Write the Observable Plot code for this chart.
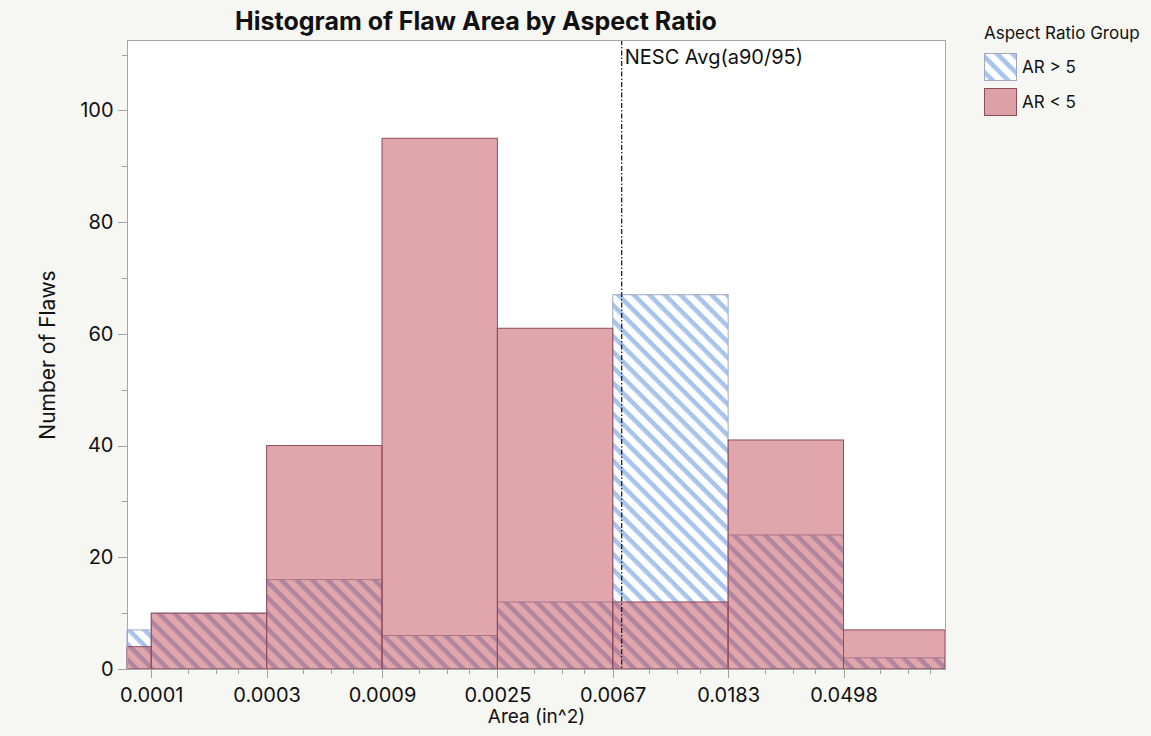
<!DOCTYPE html>
<html>
<head>
<meta charset="utf-8">
<script src="https://cdn.jsdelivr.net/npm/d3@7"></script>
<script src="https://cdn.jsdelivr.net/npm/@observablehq/plot@0.6"></script>
<style>
  html, body { margin: 0; padding: 0; background: #f6f6f3; }
  #wrap { position: relative; width: 1151px; height: 736px; font-family: Inter, "Liberation Sans", Arial, sans-serif; color: #111; }
  #title { position: absolute; left: 176px; width: 600px; top: 8px; text-align: center; font-weight: bold; font-size: 25px; line-height: 27px; }
  #legend { position: absolute; left: 984px; top: 20px; font-size: 17px; }
  #legend .lt { line-height: 26px; margin-bottom: 7px; }
  #legend .row { display: flex; align-items: center; height: 28px; margin-bottom: 7px; }
  #legend .row svg { margin-right: 5px; }
  #chart { position: absolute; left: 0; top: 0; }
</style>
</head>
<body>
<div id="wrap">
  <div id="chart"></div>
  <div id="title"></div>
  <div id="legend"></div>
</div>
<script>
// ---------- data ----------
const chartTitle = "Histogram of Flaw Area by Aspect Ratio";
const xLabel = "Area (in^2)";
const yLabel = "Number of Flaws";
const legendTitle = "Aspect Ratio Group";
const groups = ["AR > 5", "AR < 5"];
// bin edges (area, in^2) – log-spaced bins; first edge is the axis start, last the axis end
const binEdges = [0.0001, 0.00012341, 0.00033546, 0.00091188, 0.0024788, 0.0067379, 0.0183156, 0.0497871, 0.12];
const countsARgt5 = [7, 10, 16, 6, 12, 67, 24, 2];
const countsARlt5 = [4, 10, 40, 95, 61, 12, 41, 7];
const xTickValues = [0.00012341, 0.00033546, 0.00091188, 0.0024788, 0.0067379, 0.0183156, 0.0497871];
const xTickLabels = ["0.0001", "0.0003", "0.0009", "0.0025", "0.0067", "0.0183", "0.0498"];
const xMinorMultipliers = [1.374, 1.749, 2.121];
const yTicks = [0, 20, 40, 60, 80, 100];
const yMinorTicks = [10, 30, 50, 70, 90, 110];
const yMax = 112.6;
const xDomain = [0.0001, 0.12];
const nescAvg = 0.00725;
const nescLabel = "NESC Avg(a90/95)";

// ---------- styles ----------
const blueStripe = "#a9c4ec";
const blueStroke = "#9ea8bf";
const redFill = "rgb(186,57,68)";
const redOpacity = 0.45;
const redStroke = "#8e4d5d";
const tickGray = "#a0a0a0";

const gt5 = countsARgt5.map((c, i) => ({x1: binEdges[i], x2: binEdges[i + 1], count: c, group: groups[0]}));
const lt5 = countsARlt5.map((c, i) => ({x1: binEdges[i], x2: binEdges[i + 1], count: c, group: groups[1]}));
const xMinor = xTickValues.flatMap(v => xMinorMultipliers.map(m => v * m));
const xTickRows = xTickValues.map((v, i) => ({v, label: xTickLabels[i]}));

const NS = "http://www.w3.org/2000/svg";
function makePattern(id) {
  const pat = document.createElementNS(NS, "pattern");
  pat.setAttribute("id", id);
  pat.setAttribute("patternUnits", "userSpaceOnUse");
  pat.setAttribute("width", "11");
  pat.setAttribute("height", "11");
  pat.setAttribute("patternTransform", "rotate(45)");
  const bg = document.createElementNS(NS, "rect");
  bg.setAttribute("width", "11"); bg.setAttribute("height", "11"); bg.setAttribute("fill", "white");
  const st = document.createElementNS(NS, "rect");
  st.setAttribute("width", "11"); st.setAttribute("height", "4.6"); st.setAttribute("fill", blueStripe);
  pat.appendChild(bg); pat.appendChild(st);
  return pat;
}
function hatchDefs() {
  const defs = document.createElementNS(NS, "defs");
  defs.appendChild(makePattern("hatchAR"));
  return defs;
}
function line(g, x1, y1, x2, y2) {
  const l = document.createElementNS(NS, "line");
  l.setAttribute("x1", x1); l.setAttribute("y1", y1);
  l.setAttribute("x2", x2); l.setAttribute("y2", y2);
  l.setAttribute("stroke", tickGray);
  g.appendChild(l);
}
// tick lines drawn through the plot's own scales
function axisTicks(index, scales, values, dimensions) {
  const g = document.createElementNS(NS, "g");
  const {marginLeft, marginBottom, height} = dimensions;
  const yb = height - marginBottom;
  xTickValues.forEach(v => { const px = Math.round(scales.x(v)) + 0.5; line(g, px, yb, px, yb + 9); });
  xMinor.forEach(v => { const px = Math.round(scales.x(v)) + 0.5; line(g, px, yb, px, yb + 5); });
  yTicks.forEach(v => { const py = Math.round(scales.y(v)) + 0.5; line(g, marginLeft - 9, py, marginLeft, py); });
  yMinorTicks.forEach(v => { const py = Math.round(scales.y(v)) + 0.5; line(g, marginLeft - 5, py, marginLeft, py); });
  return g;
}

const fontFam = "Inter, 'Liberation Sans', Arial, sans-serif";

const plot = Plot.plot({
  width: 1151,
  height: 736,
  marginLeft: 127,
  marginRight: 206,
  marginTop: 40,
  marginBottom: 67,
  style: {background: "transparent", fontFamily: fontFam, fontSize: "20px", color: "#111"},
  x: {type: "log", domain: xDomain, axis: null},
  y: {domain: [0, yMax], axis: null},
  marks: [
    hatchDefs,
    Plot.frame({fill: "white", stroke: "none"}),
    Plot.rectY(gt5, {x1: "x1", x2: "x2", y: "count", fill: "url(#hatchAR)", stroke: blueStroke, strokeWidth: 1}),
    Plot.rectY(lt5, {x1: "x1", x2: "x2", y: "count", fill: redFill, fillOpacity: redOpacity, stroke: redStroke, strokeWidth: 1}),
    Plot.ruleX([nescAvg], {stroke: "#111", strokeWidth: 1.2, strokeDasharray: "5,2,1.5,2"}),
    Plot.text([{x: nescAvg, t: nescLabel}], {x: "x", text: "t", frameAnchor: "top", dx: 3, dy: 9, textAnchor: "start", fontSize: 20, fill: "#111"}),
    Plot.frame({stroke: "#a6a6a6"}),
    axisTicks,
    // x tick labels
    Plot.text(xTickRows, {x: "v", text: "label", frameAnchor: "bottom", dy: 32, fontSize: 20, fill: "#111"}),
    // y tick labels
    Plot.text(yTicks, {y: d => d, text: d => String(d), frameAnchor: "left", textAnchor: "end", dx: -14, fontSize: 20, fill: "#111"}),
    Plot.text([xLabel], {frameAnchor: "bottom", dy: 53, fontSize: 19, fill: "#111"}),
    Plot.text([yLabel], {frameAnchor: "left", textAnchor: "middle", dx: -79, rotate: -90, fontSize: 21, fill: "#111"})
  ]
});
document.getElementById("chart").appendChild(plot);

// title
document.getElementById("title").textContent = chartTitle;

// legend
const legend = document.getElementById("legend");
const lt = document.createElement("div");
lt.className = "lt";
lt.textContent = legendTitle;
legend.appendChild(lt);
groups.forEach((g, i) => {
  const row = document.createElement("div");
  row.className = "row";
  const svg = document.createElementNS(NS, "svg");
  svg.setAttribute("width", "33");
  svg.setAttribute("height", "28");
  if (i === 0) {
    const defs = document.createElementNS(NS, "defs");
    defs.appendChild(makePattern("hatchLegend"));
    svg.appendChild(defs);
  }
  const r = document.createElementNS(NS, "rect");
  r.setAttribute("x", "0.5"); r.setAttribute("y", "0.5");
  r.setAttribute("width", "32"); r.setAttribute("height", "27");
  if (i === 0) {
    r.setAttribute("fill", "url(#hatchLegend)");
    r.setAttribute("stroke", blueStroke);
  } else {
    r.setAttribute("fill", redFill);
    r.setAttribute("fill-opacity", redOpacity);
    r.setAttribute("stroke", redStroke);
  }
  svg.appendChild(r);
  const span = document.createElement("span");
  span.textContent = g;
  row.appendChild(svg);
  row.appendChild(span);
  legend.appendChild(row);
});
</script>
</body>
</html>
